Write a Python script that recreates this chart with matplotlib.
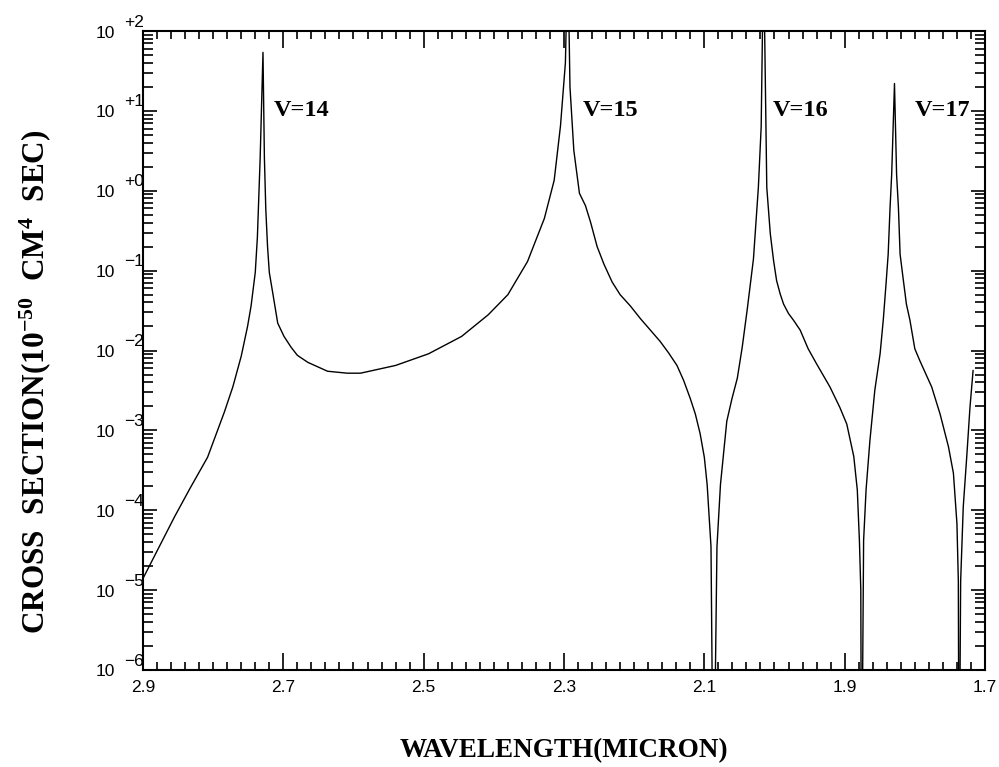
import numpy as np
import matplotlib
matplotlib.use('Agg')
import matplotlib.pyplot as plt
from matplotlib.ticker import FixedLocator, MultipleLocator, LogLocator, NullFormatter, FormatStrFormatter


#=== Values ===
wavelength = [2.900, 2.855, 2.832, 2.808, 2.784, 2.772, 2.760, 2.751, 2.746, 2.740,
              2.737, 2.733, 2.729, 2.727, 2.725, 2.7225, 2.720, 2.715, 2.708, 2.699,
              2.689, 2.680, 2.665, 2.637, 2.609, 2.590, 2.540, 2.493, 2.446, 2.408,
              2.380, 2.352, 2.328, 2.314, 2.305, 2.298, 2.2946, 2.2915, 2.286, 2.278,
              2.2694, 2.262, 2.2528, 2.243, 2.2314, 2.220, 2.2053, 2.191, 2.1769, 2.163,
              2.1508, 2.139, 2.1294, 2.120, 2.1128, 2.106, 2.100, 2.096, 2.0905, 2.087,
              2.082, 2.077, 2.068, 2.0606, 2.053, 2.046, 2.039, 2.030, 2.023, 2.019,
              2.0156, 2.011, 2.006, 2.0013, 1.997, 1.9919, 1.987, 1.980, 1.973, 1.9634,
              1.952, 1.940, 1.921, 1.907, 1.897, 1.887, 1.882, 1.879, 1.877, 1.876,
              1.873, 1.8695, 1.864, 1.857, 1.8495, 1.845, 1.8414, 1.838, 1.8353, 1.833,
              1.829, 1.826, 1.8234, 1.821, 1.8163, 1.812, 1.807, 1.800, 1.793, 1.776,
              1.764, 1.752, 1.745, 1.740, 1.738, 1.737, 1.7347, 1.731, 1.726, 1.7214,
              1.717]

cross_section = [1.4e-5, 8.3e-5, 1.95e-4, 4.6e-4, 1.7e-3, 3.5e-3, 8.5e-3, 0.020, 0.036, 0.095,
                 0.26, 2.6, 54, 2.6, 0.59, 0.20, 0.095, 0.052, 0.022, 0.015,
                 0.011, 8.7e-3, 7.1e-3, 5.5e-3, 5.2e-3, 5.2e-3, 6.5e-3, 9.1e-3, 0.015, 0.028,
                 0.050, 0.13, 0.45, 1.35, 6.5, 40, 1000, 20, 3.2, 0.93,
                 0.65, 0.40, 0.20, 0.12, 0.072, 0.050, 0.036, 0.025, 0.018, 0.013,
                 9.3e-3, 6.5e-3, 4.2e-3, 2.5e-3, 1.6e-3, 9.1e-4, 4.6e-4, 2.1e-4, 3.5e-5, 1e-8,
                 3.5e-5, 2.1e-4, 1.3e-3, 2.5e-3, 4.5e-3, 0.011, 0.032, 0.14, 1.1, 6.3,
                 1000, 1.1, 0.29, 0.133, 0.075, 0.051, 0.038, 0.029, 0.024, 0.018,
                 0.0105, 6.8e-3, 3.5e-3, 1.95e-3, 1.2e-3, 4.7e-4, 1.8e-4, 4.2e-5, 1.0e-5, 1e-8,
                 4.2e-5, 1.8e-4, 7.5e-4, 3.2e-3, 9.1e-3, 0.024, 0.062, 0.16, 0.62, 1.6,
                 22, 1.6, 0.62, 0.16, 0.075, 0.038, 0.024, 0.0105, 7.5e-3, 3.5e-3,
                 1.6e-3, 6.2e-4, 2.9e-4, 6.8e-5, 1.3e-5, 1e-8, 1.3e-5, 1.1e-4, 4.7e-4, 1.95e-3,
                 5.6e-3]

peak_labels = ['V=14', 'V=15', 'V=16', 'V=17']
label_x = [2.714, 2.274, 2.003, 1.800]

x_ticks = [2.9, 2.7, 2.5, 2.3, 2.1, 1.9, 1.7]
decades = [-6, -5, -4, -3, -2, -1, 0, 1, 2]


#=== Fonts ===
plt.rcParams['mathtext.fontset'] = 'custom'
plt.rcParams['mathtext.rm'] = 'Liberation Serif:bold'
plt.rcParams['mathtext.bf'] = 'Liberation Serif:bold'
plt.rcParams['mathtext.default'] = 'rm'
serif_bold = dict(family='Liberation Serif', weight='bold')


#=== Figure / axes ===
fig = plt.figure(figsize=(9.99, 7.67), dpi=100)
ax = fig.add_axes([143 / 999, 1 - 670 / 767, 842 / 999, 639 / 767])

ax.plot(wavelength, cross_section, color='black', lw=1.0)

ax.set_yscale('log')
ax.set_xlim(2.9, 1.7)
ax.set_ylim(1e-6, 1e2)

for s in ax.spines.values():
    s.set_linewidth(1.5)

#=== Ticks ===
ax.xaxis.set_major_locator(FixedLocator(x_ticks))
ax.xaxis.set_minor_locator(MultipleLocator(0.02))
ax.xaxis.set_major_formatter(FormatStrFormatter('%.1f'))
ax.yaxis.set_major_locator(LogLocator(base=10))
ax.yaxis.set_minor_locator(LogLocator(base=10, subs=range(2, 10), numticks=20))
ax.yaxis.set_major_formatter(NullFormatter())
ax.yaxis.set_minor_formatter(NullFormatter())

ax.tick_params(which='both', direction='in', top=True, right=True, width=1.2, color='black')
ax.tick_params(axis='x', which='major', length=12, pad=7, labelsize=12.5)
ax.tick_params(axis='x', which='minor', length=6)
ax.tick_params(axis='y', which='major', length=10)
ax.tick_params(axis='y', which='minor', length=7)
for lab in ax.get_xticklabels():
    lab.set_family('Liberation Sans')

# y tick labels drawn as "10" plus a raised exponent, like the original
for d in decades:
    exp = '+%d' % d if d >= 0 else '\u2212%d' % -d
    ax.annotate('10', xy=(0, 10.0 ** d), xycoords=ax.get_yaxis_transform(),
                xytext=(-28, -2), textcoords='offset pixels', ha='right', va='center',
                fontsize=12.5, family='Liberation Sans')
    ax.annotate(exp, xy=(0, 10.0 ** d), xycoords=ax.get_yaxis_transform(),
                xytext=(-19, 9), textcoords='offset pixels', ha='left', va='center',
                fontsize=12.5, family='Liberation Sans')

#=== Peak labels ===
for txt, lx in zip(peak_labels, label_x):
    ax.text(lx, 10, txt, ha='left', va='center', fontsize=17.5, **serif_bold)

#=== Axis titles ===
fig.text(563.5 / 999, 1 - 751 / 767, 'WAVELENGTH(MICRON)', ha='center', va='center',
         fontsize=19.5, **serif_bold)
fig.text(35 / 999, 1 - 129 / 767, r'CROSS  SECTION(10$^{-50}$  CM$^{4}$  SEC)',
         rotation=90, ha='center', va='top', fontsize=22.5, **serif_bold)

fig.savefig('out.png', dpi=100)
